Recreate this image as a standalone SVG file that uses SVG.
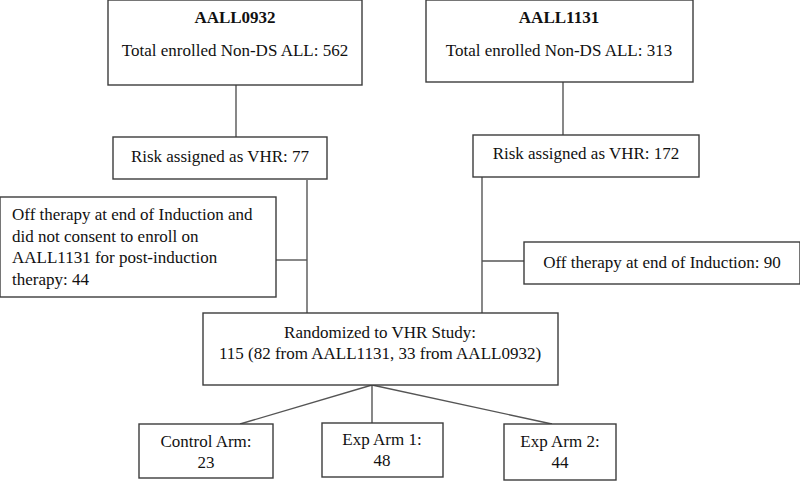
<svg xmlns="http://www.w3.org/2000/svg" width="800" height="481" viewBox="0 0 800 481">
<style>
rect{fill:#fff;stroke:#3c3c3c;stroke-width:1.4}
text{font-family:"Liberation Serif","Times New Roman",serif;font-size:17px;fill:#111}
.c{text-anchor:middle}
.b{font-weight:bold}
#connectors line{stroke:#555;stroke-width:1.4}
</style>
<rect x="0" y="0" width="800" height="481" style="fill:#fff;stroke:none"/>
<g id="connectors">
<line x1="236" y1="85" x2="236" y2="137"/>
<line x1="563" y1="82" x2="563" y2="135"/>
<line x1="307" y1="180" x2="307" y2="313"/>
<line x1="276" y1="260" x2="307" y2="260"/>
<line x1="482" y1="177" x2="482" y2="313"/>
<line x1="482" y1="261" x2="524" y2="261"/>
<line x1="372" y1="385" x2="240" y2="424"/>
<line x1="372" y1="385" x2="372" y2="423"/>
<line x1="372" y1="385" x2="552" y2="424"/>
</g>
<g id="aall0932">
<rect x="108" y="0" width="254" height="85"/>
<text class="c b" x="235" y="23">AALL0932</text>
<text class="c" x="235" y="56">Total enrolled Non-DS ALL: 562</text>
</g>
<g id="aall1131">
<rect x="426" y="0" width="267" height="82"/>
<text class="c b" x="559" y="23">AALL1131</text>
<text class="c" x="559" y="56">Total enrolled Non-DS ALL: 313</text>
</g>
<g id="risk77">
<rect x="113" y="137" width="214" height="42"/>
<text class="c" x="220" y="162">Risk assigned as VHR: 77</text>
</g>
<g id="risk172">
<rect x="473" y="135" width="226" height="42"/>
<text class="c" x="586" y="159">Risk assigned as VHR: 172</text>
</g>
<g id="off44">
<rect x="0" y="197" width="276" height="100"/>
<text x="12" y="220">Off therapy at end of Induction and</text>
<text x="12" y="241.5">did not consent to enroll on</text>
<text x="12" y="263">AALL1131 for post-induction</text>
<text x="12" y="284.5">therapy: 44</text>
</g>
<g id="off90">
<rect x="524" y="242" width="276" height="42"/>
<text class="c" x="662" y="268">Off therapy at end of Induction: 90</text>
</g>
<g id="randomized">
<rect x="203" y="313" width="355" height="72"/>
<text class="c" x="380" y="338">Randomized to VHR Study:</text>
<text class="c" x="380" y="359">115 (82 from AALL1131, 33 from AALL0932)</text>
</g>
<g id="control">
<rect x="139" y="424" width="134" height="54"/>
<text class="c" x="206" y="447">Control Arm:</text>
<text class="c" x="206" y="468">23</text>
</g>
<g id="exp1">
<rect x="322" y="423" width="121" height="54"/>
<text class="c" x="382" y="445">Exp Arm 1:</text>
<text class="c" x="382" y="466">48</text>
</g>
<g id="exp2">
<rect x="504" y="424" width="112" height="56"/>
<text class="c" x="560" y="447">Exp Arm 2:</text>
<text class="c" x="560" y="468">44</text>
</g>
</svg>
